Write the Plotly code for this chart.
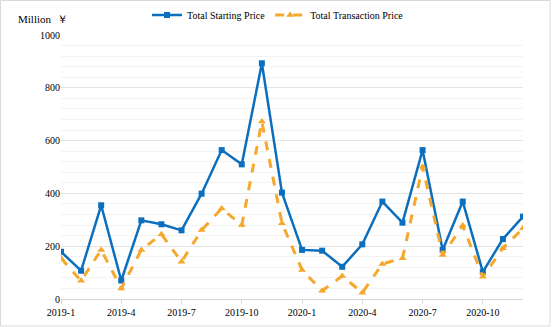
import plotly.graph_objects as go

months = [f"2019-{m}" for m in range(1, 13)] + [f"2020-{m}" for m in range(1, 13)]
tick_labels = ["2019-1", "2019-4", "2019-7", "2019-10", "2020-1", "2020-4", "2020-7", "2020-10"]

starting_price = [179, 107, 355, 70, 298, 283, 260, 399, 564, 510, 893, 403,
                  186, 183, 122, 207, 369, 289, 564, 186, 369, 103, 227, 312]
transaction_price = [154, 69, 186, 40, 186, 245, 141, 261, 343, 280, 672, 287,
                     110, 31, 87, 24, 133, 154, 501, 167, 278, 84, 192, 268]

BLUE = "#0B6FBE"
ORANGE = "#F5A82D"
FONT = "Liberation Serif, Times New Roman, serif"

fig = go.Figure()
fig.add_trace(go.Scatter(
    x=months, y=starting_price, name="Total Starting Price",
    mode="lines+markers",
    line=dict(color=BLUE, width=2.5),
    marker=dict(symbol="square", size=6, color=BLUE),
))
fig.add_trace(go.Scatter(
    x=months, y=transaction_price, name="Total Transaction Price",
    mode="lines+markers",
    line=dict(color=ORANGE, width=3, dash="dash"),
    marker=dict(symbol="triangle-up", size=7, color=ORANGE),
))

L, R, T, B = 61, 30, 35, 28
W, H = 553, 327
pw, ph = W - L - R, H - T - B

def px_x(p):
    return (p - L) / pw

def px_y(p):
    return (H - B - p) / ph

fig.add_shape(type="rect", xref="paper", yref="paper",
              x0=px_x(0.5), x1=px_x(550), y0=px_y(326), y1=px_y(0.5),
              line=dict(color="#D9D9D9", width=1), layer="below")

fig.add_annotation(text="Million  ￥", xref="paper", yref="paper",
                   x=px_x(16), y=px_y(19), xanchor="left", yanchor="middle",
                   showarrow=False, font=dict(family=FONT, size=11, color="#000"))

fig.update_layout(
    width=W, height=H,
    margin=dict(l=L, r=R, t=T, b=B, autoexpand=False),
    paper_bgcolor="white", plot_bgcolor="white",
    font=dict(family=FONT, size=10, color="#000"),
    showlegend=True,
    legend=dict(orientation="h", xref="container", yref="container",
                x=278 / W, xanchor="center", y=1 - 15 / H, yanchor="middle",
                font=dict(family=FONT, size=10, color="#000"),
                itemwidth=30, tracegroupgap=0, bgcolor="rgba(0,0,0,0)"),
    xaxis=dict(
        type="category", categoryorder="array", categoryarray=months,
        range=[0, 23], tickmode="array", tickvals=tick_labels, ticktext=tick_labels,
        showgrid=False, showline=True, linecolor="#D9D9D9", linewidth=1,
        ticks="outside", ticklen=4, tickcolor="#D9D9D9",
        tickfont=dict(family=FONT, size=10, color="#000"), zeroline=False,
    ),
    yaxis=dict(
        range=[0, 1000], dtick=200, tick0=0,
        showgrid=True, gridcolor="#E3E3E3", gridwidth=1.2,
        minor=dict(dtick=40, showgrid=True, gridcolor="#F3F3F3", gridwidth=1),
        zeroline=False, showline=False, ticks="",
        tickfont=dict(family=FONT, size=10, color="#000"),
    ),
)

fig.write_html("out.html")
